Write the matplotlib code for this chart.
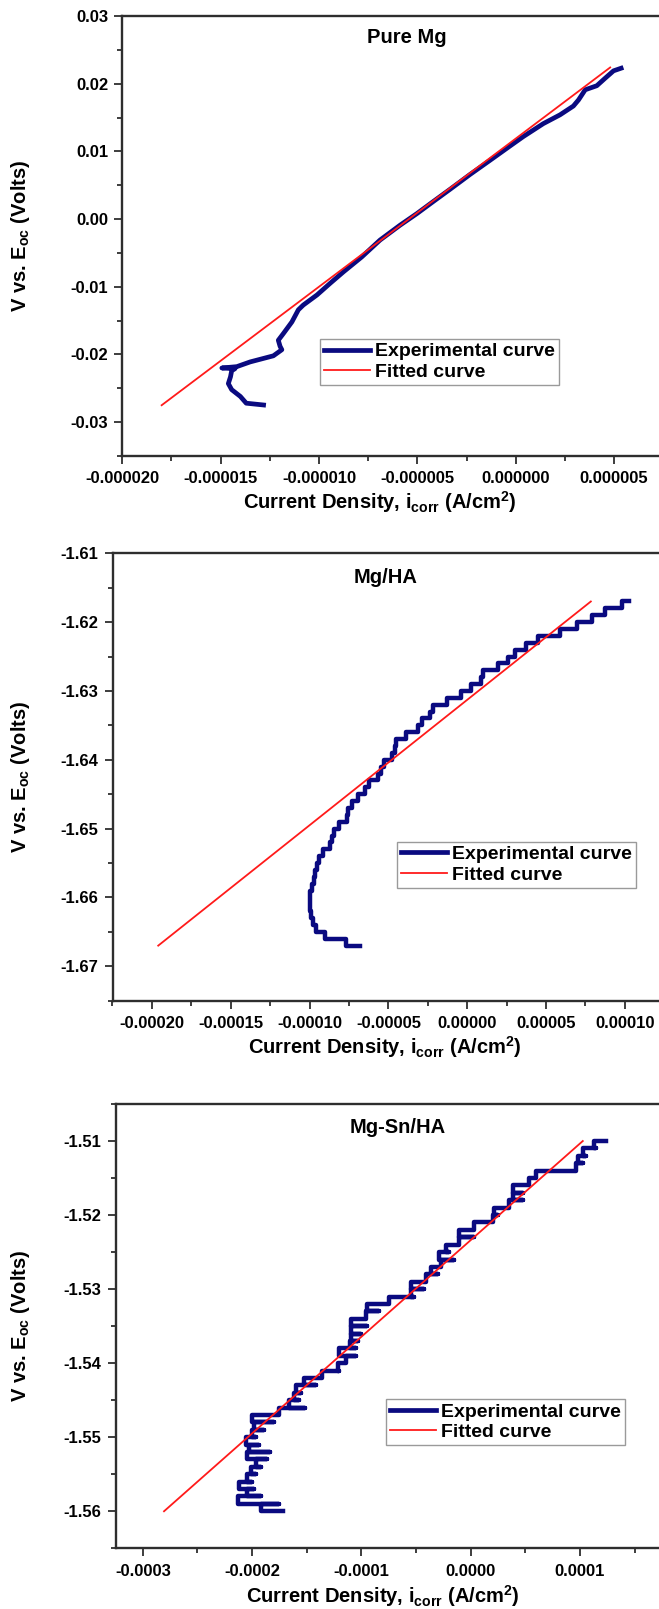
import numpy as np
import matplotlib
matplotlib.use("Agg")
import matplotlib.pyplot as plt
from matplotlib.ticker import FixedLocator, FormatStrFormatter, AutoMinorLocator
from matplotlib.lines import Line2D

# ---------------- data ----------------
# Panel 1: Pure Mg
mg_exp_x = [-12.7e-6, -13.7e-6, -14.0e-6, -14.44e-6, -14.61e-6, -14.5e-6, -14.44e-6, -14.27e-6,
            -14.94e-6, -14.18e-6, -13.5e-6, -12.32e-6, -11.89e-6, -11.98e-6, -12.07e-6, -11.81e-6,
            -11.38e-6, -11.05e-6, -10.8e-6, -10.1e-6, -9.44e-6, -8.76e-6, -7.83e-6, -6.9e-6,
            -5.88e-6, -5.03e-6, -4.19e-6, -3.34e-6, -2.32e-6, -1.3e-6, -0.29e-6, 0.39e-6,
            1.4e-6, 2.25e-6, 2.93e-6, 3.19e-6, 3.53e-6, 4.12e-6, 4.54e-6, 4.97e-6, 5.47e-6]
mg_exp_y = [-0.0275, -0.0272, -0.0262, -0.0252, -0.0243, -0.0233, -0.0224, -0.0221,
            -0.0220, -0.0218, -0.0211, -0.0202, -0.0193, -0.0188, -0.0179, -0.0169,
            -0.0152, -0.0134, -0.0127, -0.0112, -0.0095, -0.0078, -0.0056, -0.0031,
            -0.0009, 0.0008, 0.0026, 0.0044, 0.0066, 0.0087, 0.0108, 0.0122,
            0.0141, 0.0154, 0.0167, 0.0176, 0.0191, 0.0197, 0.0208, 0.0219, 0.0224]
mg_fit_x = [-18.0e-6, 4.8e-6]
mg_fit_y = [-0.0275, 0.0224]
mg_xticks = [-0.000020, -0.000015, -0.000010, -0.000005, 0.000000, 0.000005]
mg_yticks = [-0.03, -0.02, -0.01, 0.00, 0.01, 0.02, 0.03]

# Panel 2: Mg/HA (potential steps of 1 mV)
ha_exp_y = [-1.667, -1.666, -1.665, -1.664, -1.663, -1.662, -1.661, -1.660, -1.659, -1.658,
            -1.657, -1.656, -1.655, -1.654, -1.653, -1.652, -1.651, -1.650, -1.649, -1.648,
            -1.647, -1.646, -1.645, -1.644, -1.643, -1.642, -1.641, -1.640, -1.639, -1.638,
            -1.637, -1.636, -1.635, -1.634, -1.633, -1.632, -1.631, -1.630, -1.629, -1.628,
            -1.627, -1.626, -1.625, -1.624, -1.623, -1.622, -1.621, -1.620, -1.619, -1.618,
            -1.617, -1.617]
ha_exp_x = [-6.82e-5, -7.67e-5, -9.00e-5, -9.60e-5, -9.79e-5, -9.92e-5, -10.00e-5, -10.00e-5,
            -9.96e-5, -9.87e-5, -9.75e-5, -9.68e-5, -9.53e-5, -9.41e-5, -9.15e-5, -8.73e-5,
            -8.56e-5, -8.43e-5, -8.16e-5, -7.63e-5, -7.58e-5, -7.31e-5, -6.95e-5, -6.46e-5,
            -6.25e-5, -5.68e-5, -5.47e-5, -5.30e-5, -4.77e-5, -4.55e-5, -4.49e-5, -3.86e-5,
            -3.14e-5, -2.86e-5, -2.33e-5, -2.16e-5, -1.27e-5, -0.42e-5, 0.25e-5, 0.89e-5,
            1.02e-5, 1.95e-5, 2.58e-5, 3.01e-5, 3.73e-5, 4.49e-5, 5.87e-5, 6.95e-5,
            7.90e-5, 8.75e-5, 9.79e-5, 10.28e-5]
ha_fit_x = [-1.96e-4, 0.784e-4]
ha_fit_y = [-1.667, -1.617]
ha_xticks = [-0.00020, -0.00015, -0.00010, -0.00005, 0.00000, 0.00005, 0.00010]
ha_yticks = [-1.67, -1.66, -1.65, -1.64, -1.63, -1.62, -1.61]

# Panel 3: Mg-Sn/HA (per potential level: left and right extent of the trace)
sn_levels = [-1.560, -1.559, -1.558, -1.557, -1.556, -1.555, -1.554, -1.553, -1.552, -1.551,
             -1.550, -1.549, -1.548, -1.547, -1.546, -1.545, -1.544, -1.543, -1.542, -1.541,
             -1.540, -1.539, -1.538, -1.537, -1.536, -1.535, -1.534, -1.533, -1.532, -1.531,
             -1.530, -1.529, -1.528, -1.527, -1.526, -1.525, -1.524, -1.523, -1.522, -1.521,
             -1.520, -1.519, -1.518, -1.517, -1.516, -1.515, -1.514, -1.513, -1.512, -1.511,
             -1.510]
sn_left = [-1.716e-4, -1.921e-4, -2.125e-4, -2.043e-4, -2.119e-4, -2.043e-4, -2.012e-4, -1.966e-4,
           -2.043e-4, -2.027e-4, -2.058e-4, -1.997e-4, -1.982e-4, -1.997e-4, -1.753e-4, -1.661e-4,
           -1.615e-4, -1.600e-4, -1.524e-4, -1.356e-4, -1.218e-4, -1.142e-4, -1.203e-4, -1.105e-4,
           -1.096e-4, -1.096e-4, -1.096e-4, -0.959e-4, -0.944e-4, -0.745e-4, -0.547e-4, -0.547e-4,
           -0.409e-4, -0.363e-4, -0.272e-4, -0.287e-4, -0.226e-4, -0.104e-4, -0.104e-4, 0.034e-4,
           0.202e-4, 0.217e-4, 0.354e-4, 0.385e-4, 0.385e-4, 0.537e-4, 0.598e-4, 0.965e-4,
           0.980e-4, 1.026e-4, 1.133e-4]
sn_right = [-1.753e-4, -1.753e-4, -1.921e-4, -1.982e-4, -1.997e-4, -1.966e-4, -1.921e-4, -1.860e-4,
            -1.838e-4, -1.936e-4, -1.966e-4, -1.890e-4, -1.798e-4, -1.753e-4, -1.515e-4, -1.569e-4,
            -1.554e-4, -1.417e-4, -1.356e-4, -1.203e-4, -1.142e-4, -1.050e-4, -1.050e-4, -1.035e-4,
            -1.005e-4, -0.944e-4, -0.959e-4, -0.843e-4, -0.745e-4, -0.516e-4, -0.424e-4, -0.455e-4,
            -0.302e-4, -0.287e-4, -0.150e-4, -0.195e-4, -0.150e-4, 0.034e-4, -0.043e-4, 0.202e-4,
            0.247e-4, 0.324e-4, 0.476e-4, 0.476e-4, 0.492e-4, 0.598e-4, 0.904e-4, 1.026e-4,
            1.056e-4, 1.148e-4, 1.240e-4]
sn_fit_x = [-2.806e-4, 1.026e-4]
sn_fit_y = [-1.560, -1.510]
sn_xticks = [-0.0003, -0.0002, -0.0001, 0.0000, 0.0001]
sn_yticks = [-1.56, -1.55, -1.54, -1.53, -1.52, -1.51]

titles = ["Pure Mg", "Mg/HA", "Mg-Sn/HA"]
legend_labels = ["Experimental curve", "Fitted curve"]

# ---------------- style ----------------
plt.rcParams["font.family"] = ["Liberation Sans", "DejaVu Sans"]
plt.rcParams["font.weight"] = "bold"
plt.rcParams["mathtext.fontset"] = "custom"
plt.rcParams["mathtext.rm"] = "Liberation Sans:bold"
plt.rcParams["mathtext.it"] = "Liberation Sans:bold"
plt.rcParams["mathtext.bf"] = "Liberation Sans:bold"

EXP_COLOR = "#0a0a80"
FIT_COLOR = "#ff1a1a"
SPINE_COLOR = "#2e2e2e"

W, H = 659, 1609
fig = plt.figure(figsize=(W / 100, H / 100), dpi=100)


def px_axes(left, right, top, bottom):
    return [left / W, 1 - bottom / H, (right - left) / W, (bottom - top) / H]


def style_axes(ax, xlim, ylim, xticks, yticks, xfmt, yfmt):
    ax.set_xlim(*xlim)
    ax.set_ylim(*ylim)
    ax.xaxis.set_major_locator(FixedLocator(xticks))
    ax.yaxis.set_major_locator(FixedLocator(yticks))
    ax.xaxis.set_major_formatter(FormatStrFormatter(xfmt))
    ax.yaxis.set_major_formatter(FormatStrFormatter(yfmt))
    ax.xaxis.set_minor_locator(AutoMinorLocator(2))
    ax.yaxis.set_minor_locator(AutoMinorLocator(2))
    ax.tick_params(which="major", direction="out", length=6, width=1.3,
                   color=SPINE_COLOR, labelsize=12, pad=4)
    ax.tick_params(which="minor", direction="out", length=3.5, width=1.3, color=SPINE_COLOR)
    ax.tick_params(axis="x", which="major", pad=5)
    for s in ax.spines.values():
        s.set_linewidth(1.7)
        s.set_color(SPINE_COLOR)
    ax.set_xlabel("Current Density, i$_{\\mathrm{corr}}$ (A/cm$^{\\mathrm{2}}$)",
                  fontsize=14.5, fontweight="bold")
    ax.set_ylabel("V vs. E$_{\\mathrm{oc}}$ (Volts)", fontsize=14.5, fontweight="bold")


def add_legend(ax, fx, fy):
    handles = [Line2D([], [], color=EXP_COLOR, lw=3.4), Line2D([], [], color=FIT_COLOR, lw=1.3)]
    leg = ax.legend(handles, legend_labels, loc="upper left", bbox_to_anchor=(fx, fy),
                    borderaxespad=0, frameon=True, fancybox=False, edgecolor="#9a9a9a",
                    framealpha=1, fontsize=14, handlelength=2.4, handletextpad=0.25,
                    labelspacing=0.15, borderpad=0.2)
    leg.get_frame().set_linewidth(1.0)


# Panel 1
ax1 = fig.add_axes(px_axes(122.3, 663.3, 16, 456))
ax1.plot(mg_exp_x, mg_exp_y, color=EXP_COLOR, lw=3.4, solid_capstyle="butt")
ax1.plot(mg_fit_x, mg_fit_y, color=FIT_COLOR, lw=1.3)
style_axes(ax1, (-0.000020, 0.0000075), (-0.035, 0.03), mg_xticks, mg_yticks, "%.6f", "%.2f")
ax1.text(0.5255, 0.952, titles[0], transform=ax1.transAxes, ha="center", va="center",
         fontsize=14.5, fontweight="bold")
add_legend(ax1, 0.365, 0.266)
ax1.yaxis.set_label_coords((32 - 122.3) / 541.0, 0.5)
ax1.xaxis.set_label_coords((380 - 122.3) / 541.0, -0.075)

# Panel 2
ax2 = fig.add_axes(px_axes(112.5, 664.3, 553.3, 1000.7))
ax2.plot(ha_exp_x, ha_exp_y, color=EXP_COLOR, lw=3.2, drawstyle="steps-post")
ax2.plot(ha_fit_x, ha_fit_y, color=FIT_COLOR, lw=1.3)
style_axes(ax2, (-0.000225, 0.000125), (-1.675, -1.61), ha_xticks, ha_yticks, "%.5f", "%.2f")
ax2.text(0.4957, 0.9455, titles[1], transform=ax2.transAxes, ha="center", va="center",
         fontsize=14.5, fontweight="bold")
add_legend(ax2, 0.515, 0.3554)
ax2.yaxis.set_label_coords((32 - 112.5) / 551.8, 0.5)
ax2.xaxis.set_label_coords((385 - 112.5) / 551.8, -0.075)

# Panel 3: build the trace path from the per-level extents
px, py = [], []
for k, yv in enumerate(sn_levels):
    px += [sn_left[k], sn_right[k]]
    py += [yv, yv]
    if k + 1 < len(sn_levels):
        px.append(sn_left[k + 1])
        py.append(yv)
ax3 = fig.add_axes(px_axes(115.5, 661.9, 1104, 1548.3))
ax3.plot(px, py, color=EXP_COLOR, lw=3.2)
ax3.plot(sn_fit_x, sn_fit_y, color=FIT_COLOR, lw=1.3)
style_axes(ax3, (-0.000325, 0.000175), (-1.565, -1.505), sn_xticks, sn_yticks, "%.4f", "%.2f")
ax3.text(0.5157, 0.9476, titles[2], transform=ax3.transAxes, ha="center", va="center",
         fontsize=14.5, fontweight="bold")
add_legend(ax3, 0.4945, 0.336)
ax3.yaxis.set_label_coords((32 - 115.5) / 546.4, 0.5)
ax3.xaxis.set_label_coords((383 - 115.5) / 546.4, -0.078)

fig.savefig("out.png", dpi=100)
